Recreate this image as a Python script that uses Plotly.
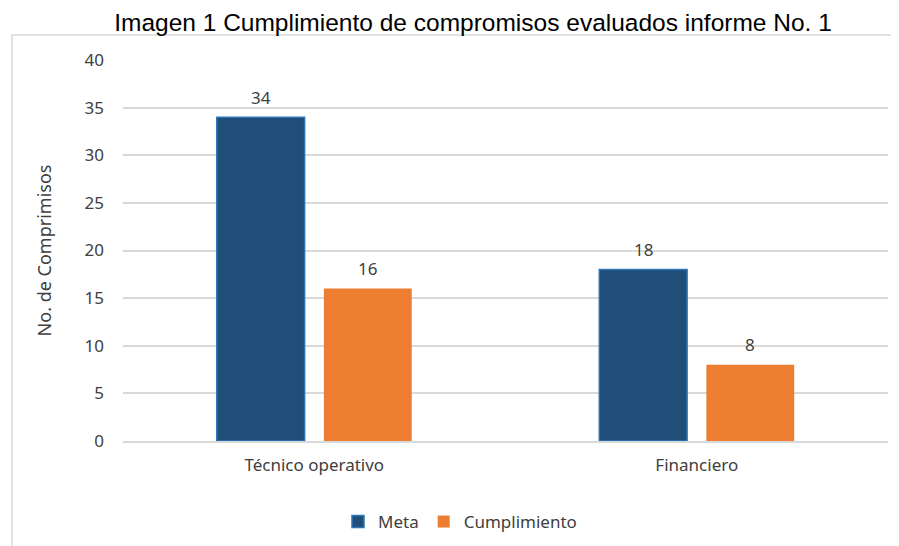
import plotly.graph_objects as go

categories = ["Técnico operativo", "Financiero"]
meta = [34, 18]
cumplimiento = [16, 8]
y_ticks = [0, 5, 10, 15, 20, 25, 30, 35, 40]

# page is offset by the 8px body margin, so the figure is 891x538
W, H = 891, 538
L, R, T, B = 115, 11, 52, 105
pw, ph = W - L - R, H - T - B
BARGAP, BARGROUPGAP = 0.44, 0.18

font_main = "Noto Sans"
txt = "#404040"

fig = go.Figure()
fig.add_trace(go.Bar(
    name="Meta", x=categories, y=meta,
    marker=dict(color="#1F4E79", line=dict(color="#2E75B6", width=1.5)),
))
fig.add_trace(go.Bar(
    name="Cumplimiento", x=categories, y=cumplimiento,
    marker=dict(color="#ED7D31", line=dict(width=0)),
))

# data labels placed above each bar via annotations
cat_w = pw / len(categories)
slot = (1 - BARGAP) * cat_w / 2
annotations = []
for series, sign in ((meta, -1), (cumplimiento, 1)):
    for c, v in zip(categories, series):
        annotations.append(dict(
            x=c, y=v, xref="x", yref="y", text=str(v), showarrow=False,
            xshift=sign * slot / 2, yshift=20, yanchor="middle",
            font=dict(size=17, color=txt, family=font_main),
        ))

fig.update_layout(
    width=W, height=H,
    margin=dict(l=L, r=R, t=T, b=B, autoexpand=False),
    paper_bgcolor="white", plot_bgcolor="white",
    barmode="group", bargap=BARGAP, bargroupgap=BARGROUPGAP,
    font=dict(family=font_main, color=txt, size=17),
    title=dict(
        text="Imagen 1 Cumplimiento de compromisos evaluados informe No. 1",
        font=dict(family="Liberation Sans", size=24.5, color="#000000"),
        x=465 / W, xanchor="center", xref="container",
        y=1 - 14 / H, yanchor="middle", yref="container",
    ),
    legend=dict(
        orientation="h", x=(452 - L) / pw, xanchor="center",
        y=-(514 - (T + ph)) / ph, yanchor="middle",
        font=dict(size=17, color=txt, family=font_main),
        itemwidth=30, tracegroupgap=0,
    ),
    annotations=annotations,
    yaxis=dict(
        range=[0, 40], tickvals=y_ticks, showgrid=True, gridcolor="#D9D9D9", gridwidth=1.5,
        zeroline=False, ticks="", ticklabelstandoff=18, automargin=False,
        tickfont=dict(size=17, color=txt, family=font_main),
        title=dict(text="No. de Comprimisos", font=dict(size=18, color=txt, family=font_main), standoff=28),
    ),
    xaxis=dict(
        showline=True, linecolor="#D9D9D9", linewidth=2, ticks="", automargin=False,
        ticklabelstandoff=8,
        tickfont=dict(size=17, color=txt, family=font_main),
    ),
    shapes=[dict(
        type="rect", xref="paper", yref="paper",
        x0=(4 - L) / pw, x1=(W + 5 - L) / pw,
        y0=-(H + 5 - (T + ph)) / ph, y1=(T + ph - 27) / ph,
        line=dict(color="#D9D9D9", width=1.5), fillcolor="rgba(0,0,0,0)", layer="below",
    )],
)

fig.write_html("out.html")
